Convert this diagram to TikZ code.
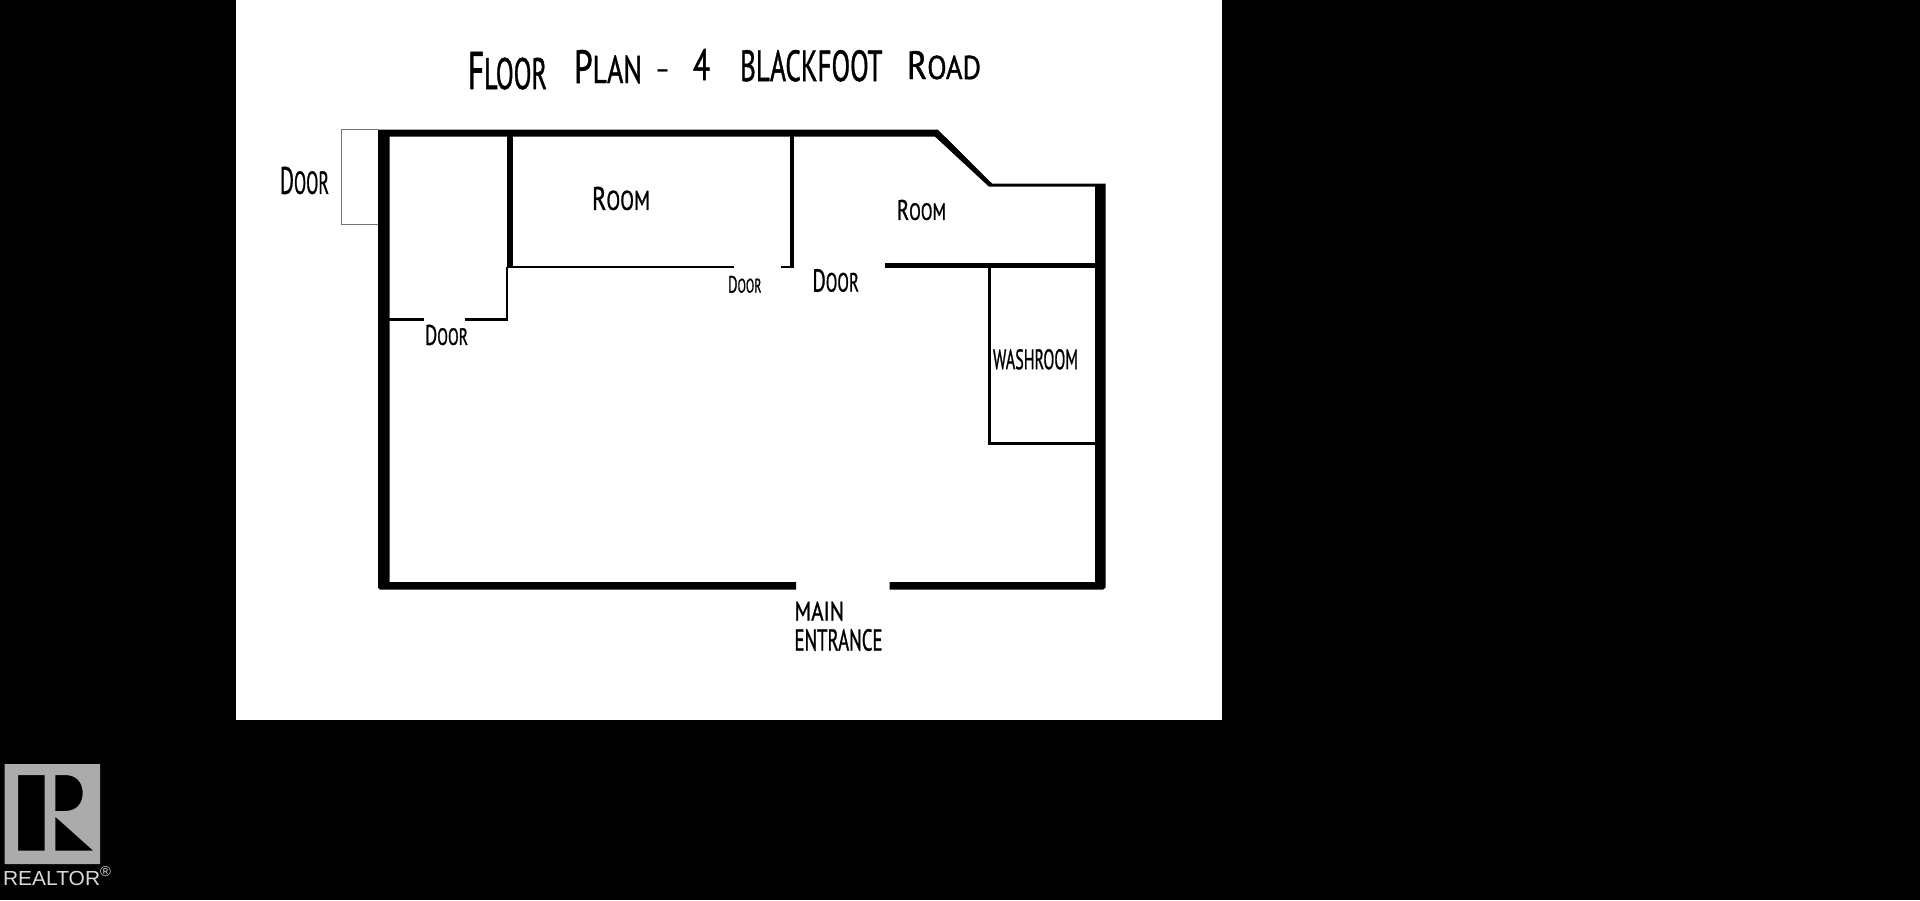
\documentclass[tikz,border=0pt]{standalone}
\usepackage{fontspec}
\usepackage{graphicx}
\setmainfont{PT Sans}
\newfontfamily\logofont{Liberation Sans}
\newfontfamily\handfont[FakeBold=1.2]{PT Sans}
\newcommand{\Hand}[6]{% name, x0, y0, x1, y1, text
  \pgfmathsetmacro{\handcx}{(#2+#4)/2}\pgfmathsetmacro{\handcy}{(#3+#5)/2}
  \pgfmathsetmacro{\handw}{#4-#2}\pgfmathsetmacro{\handh}{#5-#3}
  \node[handtext] (#1) at (\handcx,\handcy) {\resizebox{\handw pt}{\handh pt}{\handfont #6}};}
\newcommand{\Bg}[1]{{\large #1}}
% title word: raise, width, height, text
\newcommand{\TitleWord}[4]{\raisebox{#1pt}{\resizebox{#2pt}{#3pt}{\handfont #4}}}
\tikzset{
  x=1pt,y=-1pt,
  handtext/.style={inner sep=0pt,outer sep=0pt,text=black,anchor=center},
  wall/.style={fill=black,draw=none},
  thinwall/.style={draw=black,line width=2.2pt,line cap=butt},
  doorbox/.style={draw=black!55,line width=1pt},
  logo/.style={fill=logogray,draw=none},
}
\definecolor{logogray}{HTML}{ABABAB}
\begin{document}
\begin{tikzpicture}
\useasboundingbox (0,0) rectangle (1920,900);
\fill[black] (0,0) rectangle (1920,900);
\fill[white] (236,0) rectangle (1222,720);

% outer walls
\fill[wall] (378,129.5) -- (937.7,129.5) -- (992,183.5) -- (1105.5,183.5) -- (1105.5,587.5) -- (1103,589.7) -- (889.5,589.7) -- (889.5,582) -- (1095,582) -- (1095,186.7) -- (989,186.7) -- (935,136.6) -- (389.5,136.6) -- (389.5,582) -- (796,582) -- (796,589.7) -- (380,589.7) -- (378,587.5) -- cycle;

% door box outside left wall
\draw[doorbox] (378,129.5) -- (341.5,129.5) -- (341.5,224.5) -- (378,224.5);

% room partitions
\fill[wall] (507,136) rectangle (513,267.5);
\draw[thinwall] (507,267) -- (507,320.5);
\draw[thinwall] (513,267) -- (733.5,267);
\fill[wall] (389,318.2) rectangle (423.5,321);
\fill[wall] (465,318.2) rectangle (508,321);
\fill[wall] (789.5,136) rectangle (793.7,267.9);
\fill[wall] (780.5,265.8) rectangle (793.7,267.9);
\fill[wall] (885,263.2) rectangle (1095,267.9);

% washroom
\draw[thinwall] (989.5,267) -- (989.5,443.5) -- (1095,443.5);

% labels
\node[handtext,anchor=base west] (title) at (468,91) {%
  \TitleWord{2}{79}{37}{\Bg{F}LOOR}\hspace{27pt}%
  \TitleWord{8}{68}{33}{\Bg{P}LAN}\hspace{13pt}%
  \raisebox{14pt}{\resizebox{15pt}{!}{\handfont –}}\hspace{23pt}%
  \TitleWord{11}{17}{31}{4}\hspace{30pt}%
  \TitleWord{10}{142.5}{31}{BLACKFOOT}\hspace{24.5pt}%
  \TitleWord{12}{74}{28}{\Bg{R}OAD}};
\Hand{doorleft}{280}{167}{329}{194}{\Bg{D}OOR}
\Hand{roomone}{592}{187}{650}{210}{\Bg{R}OOM}
\Hand{doorcloset}{425}{325}{468}{345}{\Bg{D}OOR}
\Hand{doorsmall}{728}{276}{761.5}{292.7}{\Bg{D}OOR}
\Hand{doorroom}{812.5}{269.3}{859}{291.7}{\Bg{D}OOR}
\Hand{roomtwo}{897}{200}{946}{220}{\Bg{R}OOM}
\Hand{washroom}{993}{349.3}{1078}{369.3}{WASHROOM}
\Hand{mainlabel}{794.5}{601.7}{844}{620.7}{MAIN}
\Hand{entrancelabel}{794.5}{629.3}{882.5}{650.7}{ENTRANCE}

% REALTOR logo
\fill[logo,even odd rule]
  (4.7,764) rectangle (100,864)
  (18,775) rectangle (44.7,850.7)
  (55.3,775) -- (65,775) .. controls (76,775) and (82.7,782) .. (82.7,793) .. controls (82.7,804) and (76,811) .. (65,811) -- (55.3,811) -- cycle
  (55.3,816.7) -- (93.3,850.7) -- (55.3,850.7) -- cycle;
\node[inner sep=0pt,outer sep=0pt,text=white!85!black,anchor=north west] (realtor) at (3,867) {\resizebox{108pt}{18.5pt}{\logofont REALTOR\raisebox{0.42em}{\scriptsize ®}}};
\end{tikzpicture}
\end{document}
